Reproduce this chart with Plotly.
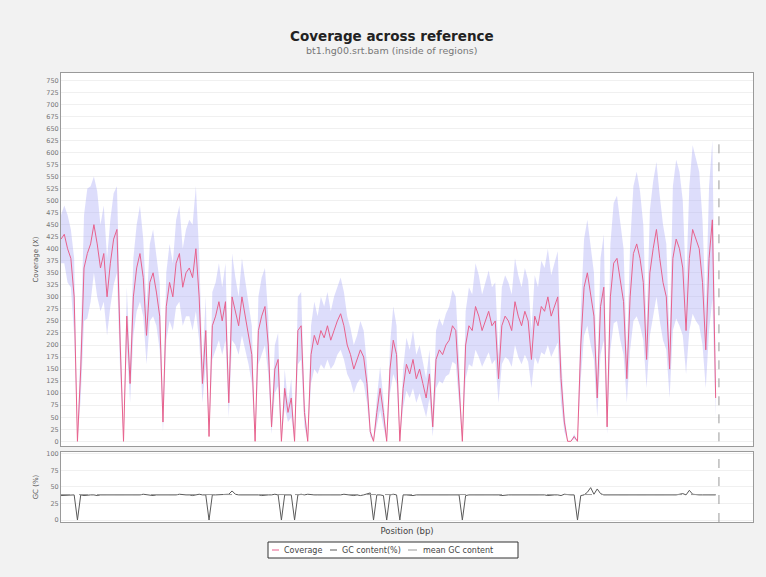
import numpy as np
import plotly.graph_objects as go

# Windows along the reference (every other window of 400)
window_step = 2
n_windows = 400

# Mean coverage per window (X)
coverage_mean = [
    420, 430, 400, 380, 300, 0, 150, 360, 390, 410,
    450, 410, 360, 390, 300, 370, 420, 440, 200, 0,
    260, 120, 300, 360, 390, 340, 220, 330, 350, 310,
    260, 40, 280, 330, 300, 370, 390, 320, 350, 360,
    340, 400, 300, 120, 230, 10, 240, 260, 290, 250,
    290, 80, 300, 270, 240, 300, 260, 220, 180, 0,
    230, 260, 280, 200, 30, 150, 170, 0, 110, 60,
    90, 0, 230, 240, 60, 0, 180, 220, 200, 230,
    215, 240, 210, 230, 250, 265, 240, 200, 180, 150,
    170, 190, 175, 120, 20, 0, 60, 110, 60, 0,
    150, 210, 180, 0, 110, 160, 140, 170, 130, 150,
    120, 90, 140, 30, 170, 190, 180, 200, 210, 240,
    230, 120, 0, 200, 240, 230, 280, 260, 230, 250,
    270, 240, 250, 130, 240, 260, 250, 230, 290, 260,
    240, 270, 250, 170, 260, 240, 280, 270, 300, 260,
    280, 300, 130, 40, 0, 0, 10, 0, 200, 320,
    350, 300, 260, 90, 280, 320, 30, 300, 370, 380,
    330, 290, 130, 300, 390, 410, 380, 330, 170, 350,
    400, 440, 380, 330, 300, 150, 380, 420, 400, 360,
    230, 380, 440, 420, 400, 330, 190, 380, 460, 90,
]

# Standard deviation of coverage per window
coverage_std = [
    50, 60, 70, 60, 80, 0, 60, 110, 135, 120,
    100, 110, 90, 100, 80, 90, 95, 90, 60, 0,
    60, 40, 80, 90, 100, 80, 60, 80, 90, 70,
    70, 20, 70, 80, 70, 90, 100, 80, 90, 100,
    110, 130, 90, 40, 70, 0, 70, 70, 80, 70,
    80, 30, 90, 70, 60, 80, 70, 60, 60, 0,
    70, 80, 80, 60, 15, 50, 55, 0, 40, 20,
    40, 0, 70, 70, 30, 0, 60, 70, 60, 70,
    65, 70, 60, 70, 70, 75, 70, 60, 55, 50,
    50, 60, 55, 40, 10, 0, 30, 45, 30, 0,
    50, 70, 60, 0, 40, 55, 50, 60, 50, 50,
    45, 40, 50, 20, 60, 65, 60, 65, 70, 75,
    70, 50, 0, 70, 80, 75, 90, 85, 75, 80,
    85, 80, 80, 50, 80, 85, 80, 75, 90, 85,
    80, 90, 85, 60, 85, 80, 95, 90, 100, 85,
    90, 95, 50, 20, 0, 0, 5, 0, 70, 100,
    110, 100, 90, 40, 100, 110, 15, 110, 125, 130,
    120, 110, 50, 110, 140, 150, 140, 120, 60, 130,
    140, 140, 130, 120, 110, 60, 150, 165, 160, 140,
    90, 150, 175, 170, 160, 130, 80, 150, 165, 40,
]

# GC content per window (%)
gc_content = [
    37, 37, 38, 37, 38, 0, 38, 37, 38, 38,
    38, 37, 38, 38, 37, 38, 38, 37, 38, 38,
    38, 38, 37, 38, 38, 39, 38, 38, 37, 38,
    38, 38, 38, 37, 38, 38, 39, 38, 38, 38,
    37, 38, 39, 38, 38, 0, 38, 38, 38, 39,
    38, 39, 44, 39, 38, 38, 39, 38, 38, 38,
    38, 37, 38, 38, 38, 39, 38, 0, 38, 38,
    38, 0, 38, 39, 38, 39, 38, 38, 38, 38,
    38, 38, 37, 37, 38, 38, 39, 38, 38, 37,
    38, 37, 38, 39, 41, 0, 38, 38, 37, 0,
    38, 39, 38, 0, 38, 38, 37, 37, 38, 38,
    38, 37, 38, 38, 37, 38, 38, 38, 38, 38,
    38, 38, 0, 37, 38, 38, 38, 38, 38, 38,
    38, 39, 38, 38, 37, 38, 38, 38, 38, 38,
    38, 38, 38, 38, 39, 38, 38, 38, 37, 38,
    38, 38, 37, 39, 38, 38, 38, 0, 37, 38,
    42, 49, 39, 47, 40, 38, 38, 38, 38, 38,
    38, 38, 38, 38, 37, 38, 38, 38, 38, 38,
    38, 38, 38, 37, 38, 38, 38, 38, 39, 40,
    38, 45, 39, 38, 38, 38, 38, 38, 38, 38,
]

mean_gc = 38.5
ref_end_marker_top = 630

series_names = ["Coverage", "GC content(%)", "mean GC content"]
series_colors = ["#e8618c", "#5a5a5a", "#999999"]
series_dash = ["solid", "solid", "dash"]

positions = np.arange(len(coverage_mean)) * window_step
mean = np.array(coverage_mean, dtype=float)
std = np.array(coverage_std, dtype=float)
upper = mean + std
lower = np.clip(mean - std, 0, None)

FONT = "DejaVu Sans"
fig = go.Figure()

# Std-deviation band around mean coverage
fig.add_trace(go.Scatter(x=positions, y=lower, mode="lines", line=dict(width=0),
                         hoverinfo="skip", showlegend=False, xaxis="x", yaxis="y"))
fig.add_trace(go.Scatter(x=positions, y=upper, mode="lines", line=dict(width=0),
                         fill="tonexty", fillcolor="rgba(175,175,245,0.42)",
                         hoverinfo="skip", showlegend=False, xaxis="x", yaxis="y"))
# Mean coverage
fig.add_trace(go.Scatter(x=positions, y=mean, mode="lines", name=series_names[0],
                         line=dict(color=series_colors[0], width=1, dash=series_dash[0]),
                         showlegend=False, xaxis="x", yaxis="y"))
# GC content
fig.add_trace(go.Scatter(x=positions, y=gc_content, mode="lines", name=series_names[1],
                         line=dict(color=series_colors[1], width=1, dash=series_dash[1]),
                         showlegend=False, xaxis="x2", yaxis="y2"))
fig.add_trace(go.Scatter(x=[positions[0], positions[-1]], y=[mean_gc, mean_gc], mode="lines",
                         name=series_names[2],
                         line=dict(color=series_colors[2], width=1, dash=series_dash[2]),
                         showlegend=False, xaxis="x2", yaxis="y2"))

# Reference end markers
fig.add_shape(type="line", xref="x", yref="y", x0=n_windows, x1=n_windows,
              y0=0, y1=ref_end_marker_top, line=dict(color="#999999", width=1, dash="dash"))
fig.add_shape(type="line", xref="x2", yref="y2 domain", x0=n_windows, x1=n_windows,
              y0=0, y1=1, line=dict(color="#999999", width=1, dash="dash"))

# Title and subtitle
fig.add_annotation(text="<b>Coverage across reference</b>", xref="paper", yref="paper",
                   x=0.478, y=1.082, xanchor="center", yanchor="middle", showarrow=False,
                   font=dict(family=FONT, size=13.5, color="#222222"))
fig.add_annotation(text="bt1.hg00.srt.bam (inside of regions)", xref="paper", yref="paper",
                   x=0.478, y=1.051, xanchor="center", yanchor="middle", showarrow=False,
                   font=dict(family=FONT, size=9.5, color="#777777"))

# Legend box below the plots (paper coordinates)
PLOT_L, PLOT_W, PLOT_B, PLOT_H = 61, 692, 522, 449
def px_x(px):
    return (px - PLOT_L) / PLOT_W
def px_y(py):
    return (PLOT_B - py) / PLOT_H

fig.add_shape(type="rect", xref="paper", yref="paper",
              x0=px_x(268), x1=px_x(518), y0=px_y(542), y1=px_y(558),
              fillcolor="white", line=dict(color="#333333", width=1))
legend_line_px = [(272, 279), (330, 337), (408, 418)]
legend_text_px = [282, 340, 421]
ly = px_y(550)
for name, color, dash, (lx0, lx1), tx in zip(series_names, series_colors, series_dash,
                                              legend_line_px, legend_text_px):
    fig.add_shape(type="line", xref="paper", yref="paper", x0=px_x(lx0), x1=px_x(lx1),
                  y0=ly, y1=ly, line=dict(color=color, width=1, dash=dash))
    fig.add_annotation(text=name, xref="paper", yref="paper", x=px_x(tx), y=ly,
                       xanchor="left", yanchor="middle", showarrow=False,
                       font=dict(family=FONT, size=8, color="#444444"))

x_range = [0, 420.7]
axis_common = dict(showline=True, linecolor="#9a9a9a", linewidth=1, mirror=True,
                   ticks="", zeroline=False)

fig.update_layout(
    width=766, height=577,
    margin=dict(l=61, r=13, t=73, b=55, autoexpand=False),
    paper_bgcolor="#f2f2f2",
    plot_bgcolor="white",
    font=dict(family=FONT, size=7, color="#555555"),
    xaxis=dict(domain=[0, 1], range=x_range, showticklabels=False, showgrid=False,
               anchor="y", **axis_common),
    yaxis=dict(domain=[0.169, 1], range=[-10, 765], dtick=25, tick0=0,
               showgrid=True, gridcolor="#f0f0f0", gridwidth=1,
               title=dict(text="Coverage (X)", font=dict(size=7), standoff=6),
               tickfont=dict(size=6.5, color="#777777"), anchor="x", **axis_common),
    xaxis2=dict(domain=[0, 1], range=x_range, showticklabels=False, showgrid=False,
                anchor="y2",
                title=dict(text="Position (bp)", font=dict(size=8.5, color="#444444"), standoff=6),
                **axis_common),
    yaxis2=dict(domain=[0, 0.156], range=[-3, 103], tickvals=[0, 25, 50, 75, 100],
                showgrid=True, gridcolor="#f0f0f0",
                title=dict(text="GC (%)", font=dict(size=7), standoff=6),
                tickfont=dict(size=6.5, color="#777777"), anchor="x2", **axis_common),
    showlegend=False,
)

fig.write_html("out.html")
